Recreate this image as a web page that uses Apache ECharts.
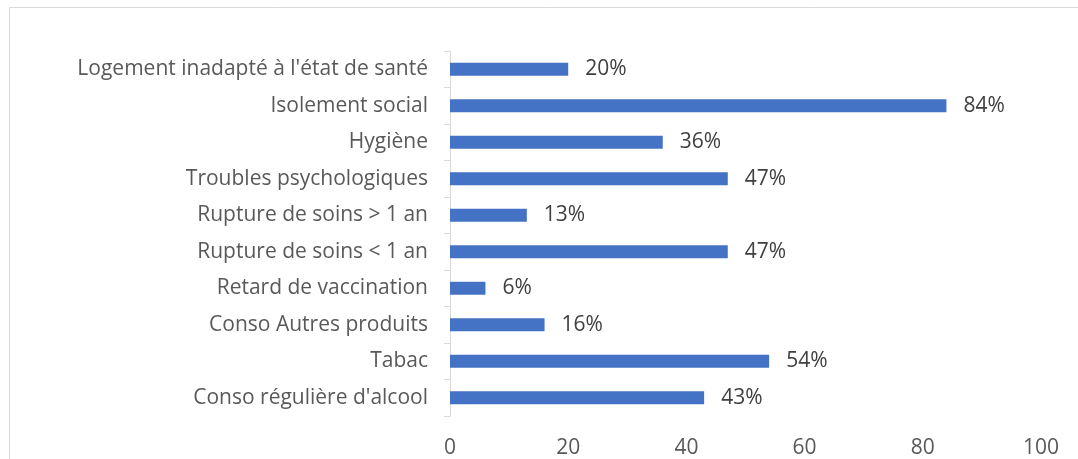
<!DOCTYPE html>
<html>
<head>
<meta charset="utf-8">
<script src="https://cdn.jsdelivr.net/npm/echarts@6/dist/echarts.min.js"></script>
<style>
  html, body { margin: 0; padding: 0; background: #fff; }
  #chart { width: 1078px; height: 459px; }
</style>
</head>
<body>
<div id="chart"></div>
<script>
// categories listed bottom to top
var categories = [
  "Conso régulière d'alcool",
  "Tabac",
  "Conso Autres produits",
  "Retard de vaccination",
  "Rupture de soins < 1 an",
  "Rupture de soins > 1 an",
  "Troubles psychologiques",
  "Hygiène",
  "Isolement social",
  "Logement inadapté à l'état de santé"
];
var values = [43, 54, 16, 6, 47, 13, 47, 36, 84, 20];
var xTicks = [0, 20, 40, 60, 80, 100];

var font = '"Open Sans", sans-serif';
var chart = echarts.init(document.getElementById('chart'));
chart.setOption({
  backgroundColor: '#ffffff',
  animation: false,
  graphic: [{
    type: 'rect',
    shape: { x: 9.5, y: 7.5, width: 1100, height: 500 },
    style: { fill: 'none', stroke: '#d9d9d9', lineWidth: 1 },
    silent: true
  }],
  grid: { left: 450, right: 37, top: 51, bottom: 41, containLabel: false },
  xAxis: {
    type: 'value',
    min: xTicks[0],
    max: xTicks[xTicks.length - 1],
    interval: 20,
    axisLine: { show: false },
    axisTick: { show: false },
    splitLine: { show: false },
    axisLabel: { color: '#595959', fontSize: 21, fontFamily: font, margin: 22 }
  },
  yAxis: {
    type: 'category',
    data: categories,
    axisLine: { show: true, lineStyle: { color: '#d9d9d9', width: 1 } },
    axisTick: { show: true, length: 6, lineStyle: { color: '#d9d9d9' } },
    axisLabel: { color: '#595959', fontSize: 21, fontFamily: font, margin: 22 }
  },
  series: [{
    type: 'bar',
    data: values,
    barWidth: 13,
    itemStyle: { color: '#4472c4' },
    label: {
      show: true,
      position: 'right',
      distance: 17,
      formatter: '{c}%',
      color: '#404040',
      fontSize: 21,
      fontFamily: font
    }
  }]
});
</script>
</body>
</html>
